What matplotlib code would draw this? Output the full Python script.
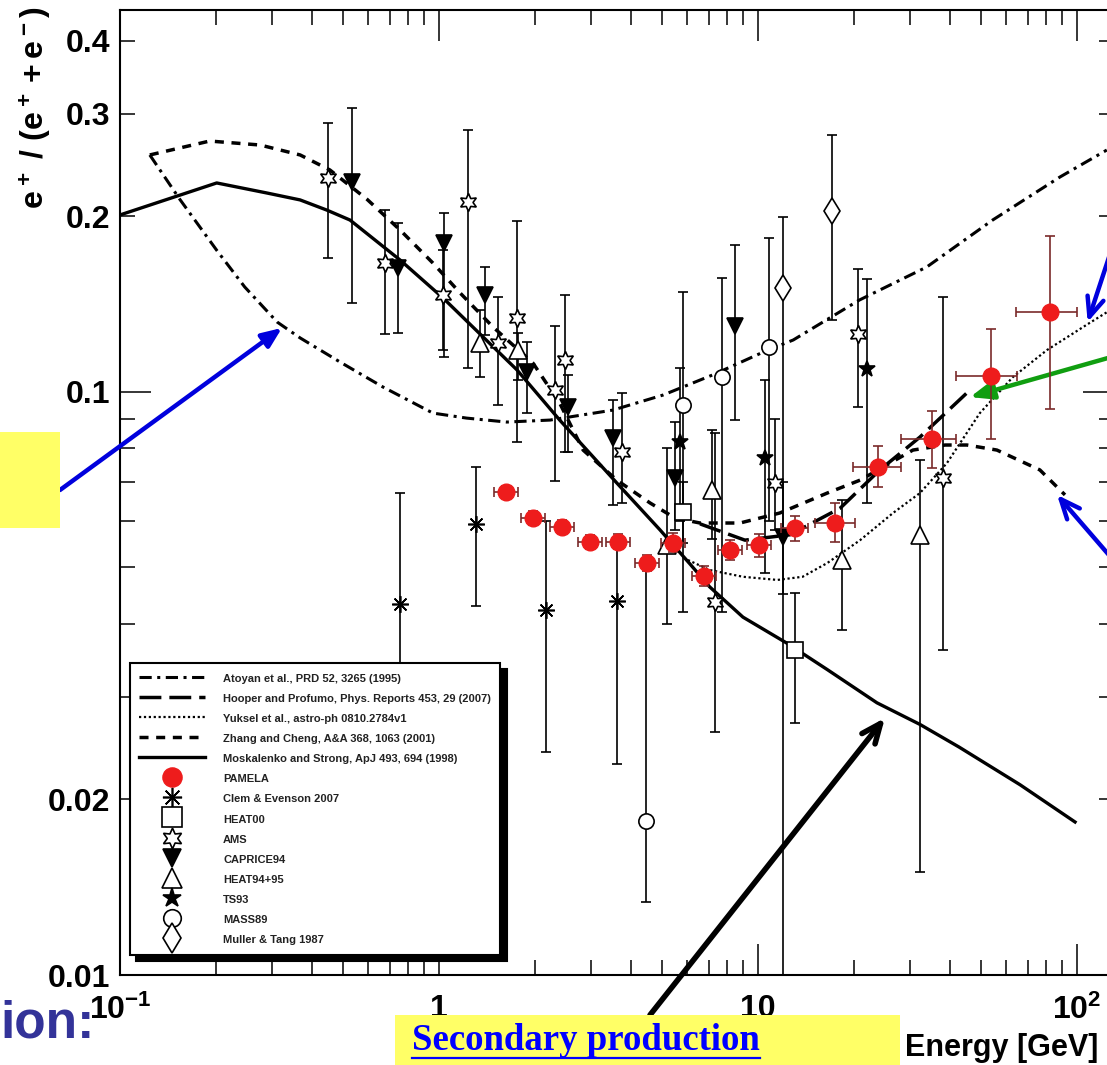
import numpy as np
import matplotlib.pyplot as plt
import matplotlib.ticker as ticker
from matplotlib.lines import Line2D
from matplotlib.patches import Rectangle

plt.rcParams['font.family'] = ['Liberation Sans', 'DejaVu Sans']
plt.rcParams['font.weight'] = 'bold'
plt.rcParams['mathtext.fontset'] = 'custom'
plt.rcParams['mathtext.rm'] = 'Liberation Sans:bold'
plt.rcParams['mathtext.bf'] = 'Liberation Sans:bold'
plt.rcParams['mathtext.it'] = 'Liberation Sans:bold'

# ---- model curves: energy [GeV] and positron fraction ----
atoyan_e = [0.124, 0.154, 0.201, 0.246, 0.311, 0.367, 0.489, 0.667, 0.957, 1.22, 1.63, 2.23, 3.51,
            5.04, 7.22, 10.4, 12.9, 20.8, 33.8, 54.4, 88.4, 124]
atoyan_r = [0.255, 0.214, 0.175, 0.1514, 0.1318, 0.1238, 0.1126, 0.102, 0.0920, 0.0902, 0.0888,
            0.0895, 0.0931, 0.0988, 0.107, 0.1171, 0.1228, 0.1438, 0.1638, 0.1972, 0.2337, 0.260]

hooper_e = [6.58, 9.10, 12.6, 18.1, 24.1, 32.2, 45.5]
hooper_r = [0.0594, 0.0557, 0.0569, 0.0632, 0.0735, 0.0837, 0.100]

yuksel_e = [6.03, 7.06, 8.97, 11.5, 13.8, 16.5, 20.9, 26.5, 32.2, 39.1, 49.6, 63.0, 80.5, 107, 124]
yuksel_r = [0.0515, 0.0495, 0.0482, 0.0476, 0.0482, 0.0509, 0.0557, 0.0620, 0.0671, 0.0755,
            0.0920, 0.1061, 0.118, 0.1303, 0.137]

zhang_e = [0.124, 0.191, 0.275, 0.367, 0.455, 0.595, 0.755, 0.957, 1.164, 1.476, 1.97, 2.39,
           2.83, 3.61, 4.59, 5.49, 6.58, 8.78, 11.7, 16.5, 20.9, 30.6, 38.6, 45.2, 56.1, 76.5, 91.7]
zhang_r = [0.255, 0.2694, 0.2652, 0.255, 0.2403, 0.214, 0.1896, 0.1664, 0.1479, 0.1293, 0.1121,
           0.0957, 0.0795, 0.0706, 0.0645, 0.0608, 0.0596, 0.0596, 0.0620, 0.0671, 0.0706,
           0.0795, 0.0811, 0.0811, 0.0795, 0.0735, 0.0666]

moska_e = [0.1, 0.201, 0.289, 0.367, 0.445, 0.526, 0.755, 1.029, 1.374, 1.756, 2.39, 3.61, 4.93,
           6.12, 7.06, 8.97, 12.3, 16.5, 23.6, 32.2, 42.7, 66.3, 98.6]
moska_r = [0.2012, 0.2283, 0.2194, 0.2135, 0.2051, 0.1972, 0.1684, 0.145, 0.1243, 0.1091, 0.0895,
           0.0698, 0.058, 0.0507, 0.0463, 0.0411, 0.0371, 0.0334, 0.0293, 0.0269, 0.0246, 0.0212,
           0.0183]

# ---- measurements: energy, fraction, lower and upper error limits ----
pamela_e = [1.62, 1.97, 2.43, 2.97, 3.64, 4.49, 5.41, 6.77, 8.17, 10.1, 13.1, 17.4, 23.8, 35.1, 53.8, 82.3]
pamela_elo = [1.49, 1.81, 2.23, 2.72, 3.34, 4.12, 4.96, 6.21, 7.50, 9.27, 11.8, 15.1, 19.8, 28.0, 41.8, 64.4]
pamela_ehi = [1.77, 2.15, 2.65, 3.24, 3.97, 4.89, 5.90, 7.38, 8.91, 11.0, 14.3, 20.1, 28.0, 41.8, 64.9, 100.0]
pamela_r = [0.0674, 0.0608, 0.0587, 0.0553, 0.0553, 0.0509, 0.0551, 0.0483, 0.0536, 0.0546,
            0.0584, 0.0597, 0.0744, 0.0831, 0.1065, 0.137]
pamela_lo = [0.0657, 0.0592, 0.0572, 0.0538, 0.0537, 0.0493, 0.0531, 0.0464, 0.0515, 0.0522,
             0.0556, 0.0552, 0.0687, 0.0741, 0.0831, 0.0935]
pamela_hi = [0.0691, 0.0624, 0.0602, 0.0568, 0.0570, 0.0526, 0.0572, 0.0503, 0.0558, 0.0571,
             0.0613, 0.0646, 0.0808, 0.0928, 0.128, 0.185]

clem_e = [0.755, 1.306, 2.165, 3.61]
clem_r = [0.0433, 0.0594, 0.0423, 0.0438]
clem_lo = [0.025, 0.0430, 0.0241, 0.0230]
clem_hi = [0.0672, 0.0744, 0.0600, 0.0553]

heat00_e = [5.82, 13.1]
heat00_r = [0.0622, 0.0361]
heat00_lo = [0.055, 0.0271]
heat00_hi = [0.070, 0.0452]

ams_e = [0.449, 0.677, 1.03, 1.233, 1.53, 1.756, 2.31, 2.48, 3.75, 7.35, 11.3, 20.6, 38.0]
ams_r = [0.233, 0.1664, 0.1466, 0.212, 0.1214, 0.134, 0.1008, 0.1135, 0.0789, 0.0436, 0.0698, 0.1258, 0.0712]
ams_lo = [0.170, 0.1258, 0.118, 0.110, 0.0950, 0.0821, 0.0704, 0.0789, 0.0645, 0.0261, 0.058, 0.0943, 0.0361]
ams_hi = [0.289, 0.205, 0.175, 0.281, 0.1456, 0.1965, 0.130, 0.1466, 0.0996, 0.0851, 0.090, 0.1626, 0.1456]

caprice_e = [0.534, 0.744, 1.036, 1.394, 1.888, 2.54, 3.51, 5.49, 8.47, 12.0]
caprice_r = [0.229, 0.1632, 0.180, 0.1466, 0.1082, 0.0943, 0.0834, 0.0712, 0.130, 0.0564]
caprice_lo = [0.1421, 0.126, 0.1148, 0.125, 0.0921, 0.079, 0.0640, 0.058, 0.0895, 0.045]
caprice_hi = [0.3065, 0.195, 0.2027, 0.1638, 0.122, 0.107, 0.0969, 0.0889, 0.1786, 0.070]

heat95_e = [1.345, 1.769, 5.18, 7.18, 18.3, 32.2]
heat95_r = [0.1214, 0.118, 0.0547, 0.0679, 0.0515, 0.0569]
heat95_lo = [0.106, 0.105, 0.040, 0.056, 0.0391, 0.01503]
heat95_hi = [0.138, 0.126, 0.080, 0.0861, 0.0653, 0.0765]

ts93_e = [5.69, 10.5, 22.0]
ts93_r = [0.0821, 0.0770, 0.1095]
ts93_lo = [0.060, 0.049, 0.0645]
ts93_hi = [0.110, 0.1048, 0.1563]

mass89_e = [4.46, 5.82, 7.71, 10.8]
mass89_r = [0.01838, 0.0950, 0.106, 0.1195]
mass89_lo = [0.01334, 0.042, 0.042, 0.060]
mass89_hi = [0.0505, 0.1484, 0.1567, 0.184]

muller_e = [11.98, 17.06]
muller_r = [0.1508, 0.2043]
muller_lo = [0.009, 0.1329]
muller_hi = [0.1995, 0.2761]

xtick_values = [0.1, 1, 10, 100]
xtick_texts = ['$10^{-1}$', '1', '10', '$10^{2}$']
ytick_values = [0.01, 0.02, 0.1, 0.2, 0.3, 0.4]
ytick_texts = ['0.01', '0.02', '0.1', '0.2', '0.3', '0.4']

W, H = 1107, 1065


def fig_xy(x, y):
    # pixel position from the top-left corner -> figure fraction
    return x / W, 1 - y / H


fig = plt.figure(figsize=(W / 100, H / 100), dpi=100)
ax = fig.add_axes([0.1084, 0.0845, 0.8979, 0.9061])
ax.set_xscale('log')
ax.set_yscale('log')
ax.set_xlim(0.1, 130.6)
ax.set_ylim(0.01, 0.452)

# theory curves
l_atoyan, = ax.plot(atoyan_e, atoyan_r, color='black', lw=2.2, ls=(0, (4, 1.8, 1, 1.8)), zorder=2)
l_hooper, = ax.plot(hooper_e, hooper_r, color='black', lw=2.5, ls=(0, (6.3, 2.3)), zorder=2)
l_yuksel, = ax.plot(yuksel_e, yuksel_r, color='black', lw=1.6, ls=(0, (1, 1.2)), zorder=2)
l_zhang, = ax.plot(zhang_e, zhang_r, color='black', lw=2.5, ls=(0, (2.6, 2.2)), zorder=2)
l_moska, = ax.plot(moska_e, moska_r, color='black', lw=2.4, ls='-', zorder=2)


def data_set(e, r, lo, hi, **kw):
    e = np.array(e)
    r = np.array(r)
    yerr = [r - np.array(lo), np.array(hi) - r]
    eb = ax.errorbar(e, r, yerr=yerr, ls='none', ecolor='black', elinewidth=1.2,
                     capsize=3.5, capthick=1.2, mec='black', mew=1.2, zorder=3, **kw)
    return eb[0]


h_clem = data_set(clem_e, clem_r, clem_lo, clem_hi, marker=(8, 2, 0), ms=12, mfc='black')
h_heat00 = data_set(heat00_e, heat00_r, heat00_lo, heat00_hi, marker='s', ms=12, mfc='white')
h_ams = data_set(ams_e, ams_r, ams_lo, ams_hi, marker=(6, 1, 0), ms=13, mfc='white')
h_caprice = data_set(caprice_e, caprice_r, caprice_lo, caprice_hi, marker='v', ms=11, mfc='black')
h_heat95 = data_set(heat95_e, heat95_r, heat95_lo, heat95_hi, marker='^', ms=13, mfc='white')
h_ts93 = data_set(ts93_e, ts93_r, ts93_lo, ts93_hi, marker='*', ms=12, mfc='black')
h_mass89 = data_set(mass89_e, mass89_r, mass89_lo, mass89_hi, marker='o', ms=11, mfc='white')
h_muller = data_set(muller_e, muller_r, muller_lo, muller_hi, marker='d', ms=13, mfc='white')

pe = np.array(pamela_e)
pr = np.array(pamela_r)
eb = ax.errorbar(pe, pr,
                 xerr=[pe - np.array(pamela_elo), np.array(pamela_ehi) - pe],
                 yerr=[pr - np.array(pamela_lo), np.array(pamela_hi) - pr],
                 ls='none', marker='o', ms=12, mfc='#ee1c1c', mec='#ee1c1c',
                 ecolor='#7a2a2a', elinewidth=1.2, capsize=3.5, capthick=1.2, zorder=4)
h_pamela = eb[0]

# axes, ticks
ax.xaxis.set_major_locator(ticker.FixedLocator(xtick_values))
ax.xaxis.set_major_formatter(ticker.FixedFormatter(xtick_texts))
ax.xaxis.set_minor_locator(ticker.LogLocator(base=10, subs=np.arange(2, 10)))
ax.xaxis.set_minor_formatter(ticker.NullFormatter())
ax.yaxis.set_major_locator(ticker.FixedLocator([0.01, 0.1]))
ax.yaxis.set_minor_locator(ticker.LogLocator(base=10, subs=np.arange(2, 10)))


def ylab(v, pos):
    for val, txt in zip(ytick_values, ytick_texts):
        if abs(v - val) / val < 1e-6:
            return txt
    return ''


ax.yaxis.set_major_formatter(ticker.FuncFormatter(ylab))
ax.yaxis.set_minor_formatter(ticker.FuncFormatter(ylab))
ax.tick_params(which='both', direction='in', top=True, right=True, width=1.1,
               labelsize=23, color='black')
ax.tick_params(which='major', length=22)
ax.tick_params(which='minor', length=11)
ax.tick_params(axis='x', which='both', pad=14)
ax.tick_params(axis='y', which='both', pad=7)
for s in ax.spines.values():
    s.set_linewidth(1.5)

fig.text(*fig_xy(36, 108), r'$e^+\ /\ (e^+ + e^-)$', rotation=90, ha='center', va='center',
         fontsize=23)
fig.text(*fig_xy(905, 1056), 'Energy [GeV]', ha='left', va='baseline', fontsize=22)

# legend
handles = [l_atoyan, l_hooper, l_yuksel, l_zhang, l_moska, h_pamela, h_clem, h_heat00, h_ams,
           h_caprice, h_heat95, h_ts93, h_mass89, h_muller]
labels = ['Atoyan et al., PRD 52, 3265 (1995)',
          'Hooper and Profumo, Phys. Reports 453, 29 (2007)',
          'Yuksel et al., astro-ph 0810.2784v1',
          'Zhang and Cheng, A&A 368, 1063 (2001)',
          'Moskalenko and Strong, ApJ 493, 694 (1998)',
          'PAMELA', 'Clem & Evenson 2007', 'HEAT00', 'AMS', 'CAPRICE94', 'HEAT94+95',
          'TS93', 'MASS89', 'Muller & Tang 1987']
leg = ax.legend(handles, labels, loc='lower left', bbox_to_anchor=(0.0101, 0.0207),
                borderaxespad=0, fontsize=8, numpoints=1, markerscale=1.15,
                handlelength=5.9, handleheight=1.4, handletextpad=1.63, labelspacing=0.65,
                borderpad=0.85, fancybox=False, framealpha=1, edgecolor='black',
                shadow={'ox': 4.5, 'oy': -4.5, 'shade': 1.0, 'alpha': 1})
leg.get_frame().set_linewidth(1.5)
for t in leg.get_texts():
    t.set_color('#222222')

# highlight boxes and arrows
fig.add_artist(Rectangle(fig_xy(0, 528), 60 / W, 96 / H, transform=fig.transFigure,
                         facecolor='#ffff66', edgecolor='none', zorder=1))
fig.add_artist(Rectangle(fig_xy(395, 1065), 505 / W, 50 / H, transform=fig.transFigure,
                         facecolor='#ffff66', edgecolor='none', zorder=1))

ax.annotate('', xy=(0.322, 0.1288), xytext=fig_xy(60, 490), textcoords='figure fraction',
            annotation_clip=False,
            arrowprops=dict(arrowstyle='-|>,head_length=1.2,head_width=0.5', lw=3.2,
                            color='#0000dd', shrinkA=0, shrinkB=0))
ax.annotate('', xy=(25.0, 0.0276), xytext=fig_xy(650, 1015), textcoords='figure fraction',
            annotation_clip=False,
            arrowprops=dict(arrowstyle='->,head_length=1.4,head_width=0.6', lw=4,
                            color='black', shrinkA=0, shrinkB=0))
ax.annotate('', xy=(108, 0.1318), xytext=fig_xy(1113, 245), textcoords='figure fraction',
            annotation_clip=False,
            arrowprops=dict(arrowstyle='->,head_length=1.4,head_width=0.6', lw=3.2,
                            color='#0000dd', shrinkA=0, shrinkB=0))
ax.annotate('', xy=(46.2, 0.098), xytext=fig_xy(1115, 356), textcoords='figure fraction',
            annotation_clip=False,
            arrowprops=dict(arrowstyle='-|>,head_length=1.4,head_width=0.55', lw=3.2,
                            color='#109e10', shrinkA=0, shrinkB=0))
ax.annotate('', xy=(86.6, 0.0666), xytext=fig_xy(1115, 562), textcoords='figure fraction',
            annotation_clip=False,
            arrowprops=dict(arrowstyle='->,head_length=1.4,head_width=0.6', lw=3.2,
                            color='#0000dd', shrinkA=0, shrinkB=0))

fig.text(*fig_xy(0, 1037), 'ion:', ha='left', va='baseline', fontsize=37, color='#333399')
sec = fig.text(*fig_xy(412, 1050), 'Secondary production', ha='left', va='baseline',
               fontsize=26.5, color='#0000ff', family='Liberation Serif', weight='bold')

# underline under the blue caption
fig.canvas.draw()
bb = sec.get_window_extent().transformed(fig.transFigure.inverted())
uy = fig_xy(0, 1058)[1]
fig.add_artist(Line2D([bb.x0, bb.x1], [uy, uy], transform=fig.transFigure,
                      color='#0000ff', lw=1.6))

fig.savefig('out.png', dpi=100)
